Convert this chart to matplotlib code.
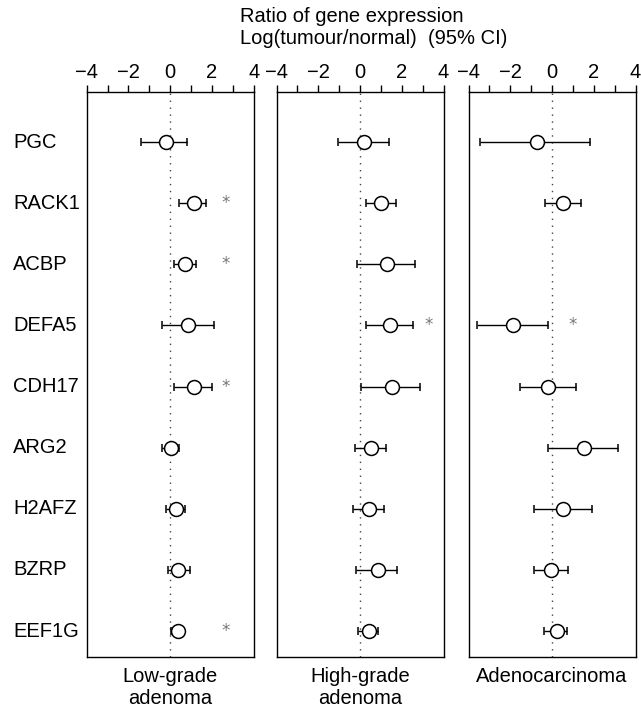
import numpy as np
import matplotlib
matplotlib.use("Agg")
import matplotlib.pyplot as plt
from matplotlib.ticker import MultipleLocator

plt.rcParams['font.family'] = ['Liberation Sans', 'DejaVu Sans']

# ------------------------------------------------------------------
# data (log ratio tumour/normal, 95% CI)
# ------------------------------------------------------------------
genes = ["PGC", "RACK1", "ACBP", "DEFA5", "CDH17", "ARG2", "H2AFZ", "BZRP", "EEF1G"]
groups = ["Low-grade\nadenoma", "High-grade\nadenoma", "Adenocarcinoma"]

low_mean = [-0.18, 1.12, 0.69, 0.87, 1.12, 0.06, 0.28, 0.36, 0.36]
low_lo   = [-1.38, 0.42, 0.17, -0.39, 0.20, -0.39, -0.18, -0.12, 0.02]
low_hi   = [0.82, 1.73, 1.25, 2.08, 1.99, 0.42, 0.72, 0.95, 0.65]
low_star = [False, True, True, False, True, False, False, False, True]

high_mean = [0.21, 1.01, 1.28, 1.44, 1.52, 0.54, 0.45, 0.84, 0.44]
high_lo   = [-1.04, 0.27, -0.16, 0.27, 0.06, -0.24, -0.32, -0.17, -0.10]
high_hi   = [1.39, 1.73, 2.64, 2.56, 2.88, 1.25, 1.15, 1.78, 0.85]
high_star = [False, False, False, True, False, False, False, False, False]

adeno_mean = [-0.74, 0.51, np.nan, -1.89, -0.17, 1.52, 0.51, -0.05, 0.22]
adeno_lo   = [-3.43, -0.35, np.nan, -3.60, -1.52, -0.19, -0.84, -0.88, -0.37]
adeno_hi   = [1.81, 1.40, np.nan, -0.19, 1.13, 3.16, 1.92, 0.77, 0.73]
adeno_star = [False, False, False, True, False, False, False, False, False]

star_x = [2.65, 3.28, 1.0]

panels = [
    (low_mean, low_lo, low_hi, low_star),
    (high_mean, high_lo, high_hi, high_star),
    (adeno_mean, adeno_lo, adeno_hi, adeno_star),
]

# ------------------------------------------------------------------
# figure
# ------------------------------------------------------------------
W, H = 641, 710
fig = plt.figure(figsize=(W / 100, H / 100), dpi=100)

lefts = [86.7, 276.5, 468.5]
width = 167.0
top_px, bot_px = 91.7, 657
rows = np.arange(len(genes))

for i, (mean, lo, hi, star) in enumerate(panels):
    ax = fig.add_axes([lefts[i] / W, 1 - bot_px / H, width / W, (bot_px - top_px) / H])
    mean = np.array(mean, dtype=float)
    lo = np.array(lo, dtype=float)
    hi = np.array(hi, dtype=float)
    ok = ~np.isnan(mean)

    ax.axvline(0, color="#444444", lw=1.0, ls=(0, (1, 4)), zorder=1)
    ax.errorbar(mean[ok], rows[ok],
                xerr=[mean[ok] - lo[ok], hi[ok] - mean[ok]],
                fmt="o", ms=10, mfc="white", mec="black", mew=1.1,
                ecolor="black", elinewidth=1.0, capsize=3, capthick=1.0, zorder=3)
    for r, s in zip(rows, star):
        if s:
            ax.text(star_x[i], r, "*", ha="center", va="center",
                    fontsize=12, color="#777777", family="DejaVu Sans")

    ax.set_xlim(-4, 4)
    ax.set_ylim(8.425, -0.823)
    ax.xaxis.set_major_locator(MultipleLocator(2))
    ax.xaxis.set_minor_locator(MultipleLocator(1))
    ax.xaxis.tick_top()
    ax.tick_params(axis="x", which="both", direction="out", length=5, width=1,
                   labelsize=14.5, pad=2)
    ax.set_yticks([])
    for sp in ax.spines.values():
        sp.set_linewidth(1.0)

    cx = (lefts[i] + width / 2) / W
    ax_lbl = groups[i].split("\n")
    fig.text(cx, 1 - 677 / H, ax_lbl[0], ha="center", va="center", fontsize=14.5)
    if len(ax_lbl) > 1:
        fig.text(cx, 1 - 698 / H, ax_lbl[1], ha="center", va="center", fontsize=14.5)

    if i == 0:
        for r, g in zip(rows, genes):
            ax.text(-0.44, r, g, transform=ax.get_yaxis_transform(),
                    ha="left", va="center", fontsize=14.5)

fig.text(240 / W, 1 - 17 / H, "Ratio of gene expression", ha="left", va="center", fontsize=14.5)
fig.text(240 / W, 1 - 38 / H, "Log(tumour/normal)  (95% CI)", ha="left", va="center", fontsize=14.5)

fig.savefig("out.png", dpi=100)
